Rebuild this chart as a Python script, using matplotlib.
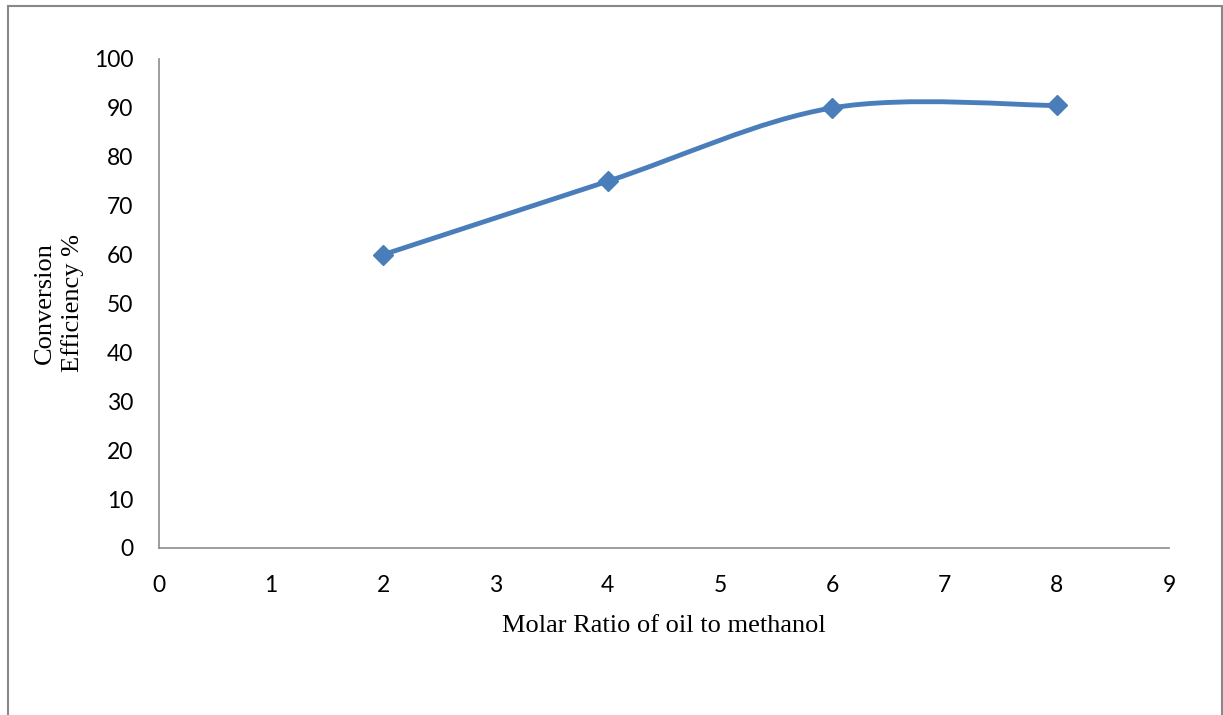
import matplotlib
matplotlib.use("Agg")
import matplotlib.pyplot as plt
from matplotlib.path import Path
from matplotlib.patches import PathPatch, Rectangle
import numpy as np

molar_ratio = [2, 4, 6, 8]
efficiency = [60, 75, 90, 90.5]
xticks = list(range(0, 10))
yticks = list(range(0, 101, 10))

blue = "#4A7EBB"
axis_grey = "#8C8C8C"
tick_font = "Lato"
label_font = "Liberation Serif"


def smooth_path(xs, ys):
    # cubic bezier segments through the points (catmull-rom style, tension 1/6)
    p = np.column_stack([xs, ys]).astype(float)
    p_ext = np.vstack([p[0], p, p[-1]])
    verts = [p[0]]
    codes = [Path.MOVETO]
    for i in range(1, len(p_ext) - 2):
        c1 = p_ext[i] + (p_ext[i + 1] - p_ext[i - 1]) / 6
        c2 = p_ext[i + 1] - (p_ext[i + 2] - p_ext[i]) / 6
        verts += [c1, c2, p_ext[i + 1]]
        codes += [Path.CURVE4] * 3
    return Path(verts, codes)


fig = plt.figure(figsize=(12.23, 7.15), dpi=100)
ax = fig.add_axes([0.130, 0.2336, 0.8258, 0.6839])

ax.add_patch(PathPatch(smooth_path(molar_ratio, efficiency), facecolor="none",
                       edgecolor=blue, lw=3.5, capstyle="round", joinstyle="round", zorder=3))
ax.plot(molar_ratio, efficiency, linestyle="none", marker="D", markersize=10.5,
        color=blue, zorder=4)

ax.set_xlim(0, 9)
ax.set_ylim(0, 100)
ax.set_xticks(xticks)
ax.set_yticks(yticks)
ax.tick_params(length=0, labelsize=16.5)
for lab in ax.get_xticklabels() + ax.get_yticklabels():
    lab.set_fontfamily(tick_font)
ax.tick_params(axis="x", pad=19.5)
ax.tick_params(axis="y", pad=18.5)

for side in ("top", "right"):
    ax.spines[side].set_visible(False)
for side in ("left", "bottom"):
    ax.spines[side].set_color(axis_grey)
    ax.spines[side].set_linewidth(1.2)

ax.set_xlabel("Molar Ratio of oil to methanol", fontfamily=label_font, fontsize=19, labelpad=13.5)
ax.set_ylabel("Conversion\nEfficiency %", fontfamily=label_font, fontsize=19,
              linespacing=1.3, labelpad=7)

# chart area border
fig.patches.append(Rectangle((8 / 1223, -0.01), 1213.5 / 1223, 1 - 6 / 715 + 0.01,
                             transform=fig.transFigure, fill=False,
                             edgecolor="#888888", lw=1.5))

fig.savefig("out.png", dpi=100)
